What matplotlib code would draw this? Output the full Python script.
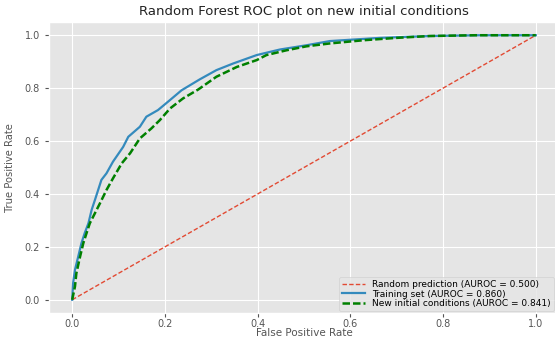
import matplotlib
matplotlib.use("Agg")
import matplotlib.pyplot as plt
from matplotlib import font_manager

plt.style.use("ggplot")

# Data
random_fpr = [0.0, 1.0]
random_tpr = [0.0, 1.0]

train_fpr = [0.0, 0.002, 0.006, 0.013, 0.020, 0.027, 0.035, 0.042, 0.049, 0.056,
             0.063, 0.074, 0.088, 0.110, 0.121, 0.146, 0.160, 0.185, 0.211, 0.236,
             0.275, 0.311, 0.347, 0.398, 0.448, 0.505, 0.556, 0.664, 0.771, 0.880, 1.0]
train_tpr = [0.0, 0.063, 0.113, 0.163, 0.214, 0.252, 0.289, 0.340, 0.377, 0.415,
             0.453, 0.478, 0.522, 0.578, 0.616, 0.654, 0.692, 0.717, 0.755, 0.792,
             0.833, 0.868, 0.893, 0.925, 0.946, 0.962, 0.978, 0.990, 0.997, 1.0, 1.0]

new_fpr = [0.0, 0.006, 0.009, 0.017, 0.024, 0.031, 0.038, 0.049, 0.060, 0.074,
           0.088, 0.107, 0.125, 0.146, 0.171, 0.189, 0.211, 0.239, 0.272, 0.311,
           0.355, 0.398, 0.419, 0.462, 0.505, 0.556, 0.628, 0.700, 0.771, 0.870, 1.0]
new_tpr = [0.0, 0.050, 0.100, 0.163, 0.214, 0.252, 0.289, 0.327, 0.365, 0.415,
           0.459, 0.516, 0.554, 0.610, 0.648, 0.679, 0.723, 0.761, 0.795, 0.843,
           0.880, 0.906, 0.925, 0.943, 0.958, 0.969, 0.981, 0.990, 0.997, 1.0, 1.0]

labels = ["Random prediction (AUROC = 0.500)",
          "Training set (AUROC = 0.860)",
          "New initial conditions (AUROC = 0.841)"]

fig = plt.figure(figsize=(5.55, 3.37), dpi=100)
ax = fig.add_axes([49 / 555, 1 - 313 / 337, 510 / 555, 291 / 337])

ax.plot(random_fpr, random_tpr, linestyle="--", color="#E24A33", lw=1.0,
        dashes=(3.2, 1.6), label=labels[0])
ax.plot(train_fpr, train_tpr, color="#348ABD", lw=1.6, label=labels[1])
ax.plot(new_fpr, new_tpr, linestyle="--", color="green", lw=1.8,
        dashes=(3.0, 1.2), label=labels[2])

ax.set_xlim(-0.05, 1.05)
ax.set_ylim(-0.05, 1.05)
ax.set_xticks([0, 0.2, 0.4, 0.6, 0.8, 1.0])
ax.set_yticks([0, 0.2, 0.4, 0.6, 0.8, 1.0])
ax.tick_params(labelsize=7, colors="#555555", length=3)
ax.tick_params(axis="x", pad=1.2)

ax.set_title("Random Forest ROC plot on new initial conditions", fontsize=9.5,
             color="#222222", pad=5)
ax.set_xlabel("False Positive Rate", fontsize=7.5, color="#555555", labelpad=-0.5)

# ylabel in a narrow face if one is installed
cands = []
for f in font_manager.fontManager.ttflist:
    if f.name in ("Liberation Sans Narrow", "DejaVu Sans Condensed", "Roboto Condensed",
                  "Open Sans Condensed", "Noto Sans Condensed"):
        cands.append(f.name)
    elif f.name in ("Roboto", "Open Sans", "Noto Sans", "DejaVu Sans") and \
            str(f.stretch).lower() in ("condensed", "semi-condensed", "extra-condensed"):
        cands.append(f.name)
if "Liberation Sans Narrow" in cands:
    yprops = dict(family=["Liberation Sans Narrow", "DejaVu Sans"])
elif cands:
    yprops = dict(family=[cands[0], "DejaVu Sans"], stretch="condensed")
else:
    yprops = dict(family=["DejaVu Sans"])
ax.set_ylabel("True Positive Rate", fontsize=8, color="#555555", labelpad=7, **yprops)

leg = ax.legend(loc="lower right", fontsize=6.5, borderaxespad=0.2,
                handlelength=2.6, labelspacing=0.1, borderpad=0.3,
                bbox_to_anchor=(0.993, 0.0))

fig.savefig("out.png", dpi=100)
